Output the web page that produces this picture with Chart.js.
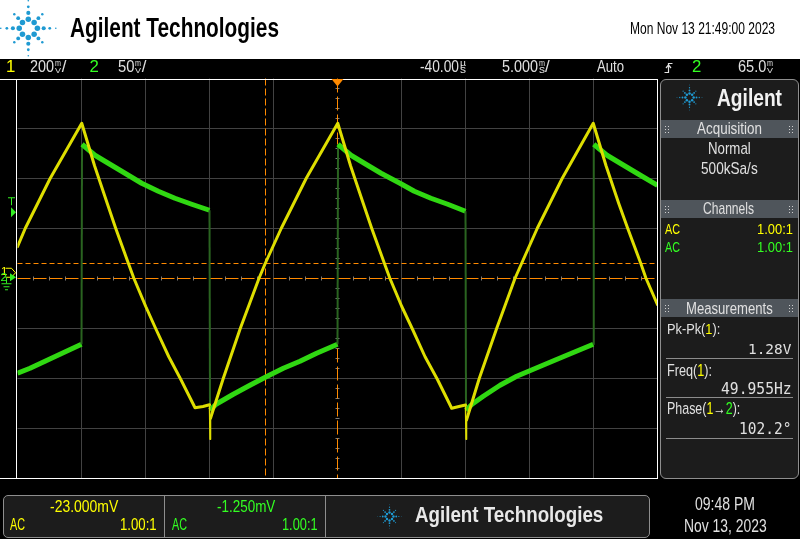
<!DOCTYPE html>
<html><head><meta charset="utf-8">
<script src="https://cdn.jsdelivr.net/npm/chart.js@4.4.1/dist/chart.umd.min.js"></script>
<style>
html,body{margin:0;padding:0;}
body{width:800px;height:539px;background:#000;position:relative;overflow:hidden;}
#hdr{position:absolute;left:0;top:0;width:800px;height:59px;background:#fff;}
#c{position:absolute;left:0;top:0;}
.lb{position:absolute;white-space:nowrap;transform-origin:0 0;}
.box{position:absolute;background:#1c1c1c;border:1px solid #8e8e8e;box-sizing:border-box;}
.bar{position:absolute;background:#4f555b;}
.sep{position:absolute;height:1px;background:#8c8c8c;}
.vl{position:absolute;width:1px;background:#8e8e8e;}
</style></head>
<body>
<div id="hdr"></div>
<div class="box" style="left:660px;top:79px;width:139px;height:400px;border-radius:6px;"></div>
<div class="bar" style="left:661px;top:120px;width:137px;height:18px;"></div>
<div class="bar" style="left:661px;top:200px;width:137px;height:18px;"></div>
<div class="bar" style="left:661px;top:299px;width:137px;height:18px;"></div>
<div class="sep" style="left:666px;top:358px;width:127px;"></div>
<div class="sep" style="left:666px;top:397px;width:127px;"></div>
<div class="sep" style="left:666px;top:438px;width:127px;"></div>
<div class="box" style="left:3px;top:495px;width:647px;height:43px;border-radius:5px;"></div>
<div class="vl" style="left:164px;top:495px;height:43px;"></div>
<div class="vl" style="left:325px;top:495px;height:43px;"></div>
<svg id="deco" width="800" height="539" style="position:absolute;left:0;top:0"></svg>
<canvas id="c" width="800" height="539"></canvas>
<script>
// Channel 1 (yellow), time in ms, voltage in mV
const ch1Time = [-25.04, -24.43, -22.48, -20.02,
  -19.02, -18.02, -17.37, -16.38, -15.95, -15.02, -14.22, -13.22, -12.27, -11.17, -10.55, -10.04, -10.00, -9.96,
  -8.96, -7.63, -6.17, -5.68, -4.43, -2.48, -0.02,
  0.98, 1.98, 2.63, 3.62, 4.05, 4.98, 5.82, 6.80, 7.78, 8.88, 9.45, 9.96, 10.00, 10.04,
  11.04, 12.40, 13.83, 14.35, 15.57, 17.52, 19.94,
  20.94, 21.94, 22.63, 23.65, 24.06, 24.96];
const ch1mV = [104, 178, 378, 598,
  428, 276, 178, 38, -22, -135, -226, -336, -428, -540, -535, -528, -666, -582,
  -422, -222, -22, 38, 178, 378, 598,
  428, 276, 178, 38, -22, -135, -226, -336, -428, -542, -535, -529, -666, -589,
  -422, -222, -22, 38, 178, 378, 598,
  428, 276, 178, 38, -22, -128];
// Channel 2 (green)
const ch2Time = [-25.04, -24.06, -22.89, -21.72, -20.04,
  -20.00, -18.99, -17.95, -16.64, -15.34, -14.04, -12.74, -11.43, -10.04,
  -10.00, -9.53, -8.18, -6.88, -5.68, -4.27, -2.97, -1.67, -0.04,
  0.00, 1.01, 2.05, 3.36, 4.84, 5.96, 7.26, 8.57, 9.96,
  10.00, 10.47, 11.35, 12.66, 13.96, 15.26, 16.56, 17.87, 19.94,
  19.98, 21.01, 22.05, 23.36, 24.96];
const ch2mV = [-96, -91, -84, -77, -67,
  133, 122, 114, 104, 94, 86, 79, 73, 67,
  -133, -127, -117, -108, -100, -91, -84, -76, -67,
  133, 122, 114, 104, 94, 86, 79, 73, 66,
  -133, -127, -119, -108, -99, -92, -85, -78, -67,
  133, 122, 114, 104, 92];
// scope settings
const timeRange = [-25.04, 24.96];      // 5.000 ms/div, delay -40.00 us
const ch1Range = [-823, 777];           // 200 mV/div, offset -23.000 mV
const ch2Range = [-201.25, 198.75];     // 50 mV/div, offset -1.250 mV
const triggerLevel = 65.0;              // mV on channel 2
const cursorTime = [-5.66];             // phase measurement marker (ms)
const cursorCh1 = [37];                 // ch1 threshold marker (mV)

// ---------------- decoration (logos, grips, trigger symbol) ----------------
function spark(cx, cy, R){
  let s = '';
  for (let k = 0; k < 8; k++) {
    const a = k * Math.PI / 4, diag = k % 2 === 1;
    const rings = diag ? [[0.30,0.10],[0.52,0.07],[0.72,0.045]] : [[0.33,0.10],[0.56,0.075],[0.78,0.05],[1.0,0.03]];
    for (const [d, r] of rings) s += `<circle cx="${(cx+R*d*Math.cos(a)).toFixed(2)}" cy="${(cy+R*d*Math.sin(a)).toFixed(2)}" r="${(R*r).toFixed(2)}"/>`;
  }
  return `<g fill="#1f9ad2">${s}</g>`;
}
function grips(x, y){
  let s = '';
  for (const dx of [0,3]) for (const dy of [0,3,6]) s += `<rect x="${x+dx}" y="${y+dy}" width="1" height="1"/>`;
  return `<g fill="#cfcfcf">${s}</g>`;
}
let deco = spark(28.3, 28.3, 27.5) + spark(689.5, 97.5, 12.5) + spark(389.5, 516.5, 12);
for (const y of [126, 206, 305]) deco += grips(665, y) + grips(789, y);
deco += `<g stroke="#e0e0e0" fill="none" stroke-width="1.2"><path d="M664.5 72.5H668.5V63.5H672.5"/><path d="M666 68L668.5 65L671 68"/></g>`;
document.getElementById('deco').innerHTML = deco;

// ---------------- text labels ----------------
const mctx = document.createElement('canvas').getContext('2d');
function lab(html, x, capTop, capH, w, color, o = {}) {
  const fam = o.mono ? "'DejaVu Sans Mono', monospace" : "'Liberation Sans', Arial, sans-serif";
  const weight = o.bold ? 'bold' : 'normal';
  mctx.font = `${weight} 100px ${fam}`;
  const m = mctx.measureText('H');
  const cap = m.actualBoundingBoxAscent / 100, asc = m.fontBoundingBoxAscent / 100, desc = m.fontBoundingBoxDescent / 100;
  const F = capH / cap;
  const top = capTop + capH - (asc - (asc + desc - 1) / 2) * F;
  const el = document.createElement('div');
  el.className = 'lb';
  el.innerHTML = html;
  el.style.left = x + 'px'; el.style.top = top + 'px';
  el.style.font = `${weight} ${F}px ${fam}`; el.style.lineHeight = F + 'px'; el.style.color = color;
  document.body.appendChild(el);
  if (w) { const aw = el.getBoundingClientRect().width; el.style.transform = `scaleX(${w / aw})`; }
}
const Y = '#ffff00', GR = '#33ff22', W = '#e0e0e0';
const y = s => `<span style="color:${Y}">${s}</span>`, g = s => `<span style="color:${GR}">${s}</span>`;
// header
lab('Agilent Technologies', 70, 18.5, 19, 209, '#000', {bold: true});
lab('Mon Nov 13 21:49:00 2023', 630, 23.3, 11.7, 145, '#000');
// status bar
function unitStack(top, bot, x, w) {
  lab(top, x, 60.6, 6.2, w, W);
  if (bot === 'V') lab(bot, x, 68, 5.3, w, W); else lab(bot, x, 66.4, 6.9, w, W);
}
lab('1', 6, 61.7, 11.6, 0, Y);
lab('200', 30, 61.7, 11.6, 24, W); unitStack('m', 'V', 55, 6); lab('/', 61.7, 61.7, 11.6, 0, W);
lab('2', 89.5, 61.7, 11.6, 0, GR);
lab('50', 118.3, 61.7, 11.6, 16.5, W); unitStack('m', 'V', 135.3, 6); lab('/', 141.7, 61.7, 11.6, 0, W);
lab('-40.00', 420, 61.7, 11.6, 39, W); unitStack('µ', 's', 460, 6);
lab('5.000', 501.7, 61.7, 11.6, 36, W); unitStack('m', 's', 538.5, 6); lab('/', 545, 61.7, 11.6, 0, W);
lab('Auto', 596.5, 61.7, 11.6, 27, W);
lab('2', 692, 61.7, 11.6, 0, GR);
lab('65.0', 738.3, 61.7, 11.6, 28.4, W); unitStack('m', 'V', 767, 6);
// left markers
lab('1', 1, 268, 8, 0, Y);
lab('2', 0.5, 273.5, 8, 0, GR);
// right panel
lab('Agilent', 717, 90, 16.7, 65, '#f2f2f2', {bold: true});
lab('Acquisition', 696.7, 123.3, 11.7, 65, W);
lab('Normal', 708, 143.3, 11.7, 42.7, W);
lab('500kSa/s', 700.7, 163.3, 11.7, 56.7, W);
lab('Channels', 703, 203, 11.3, 51, W);
lab('AC', 665, 224.3, 10, 15, Y); lab('1.00:1', 756.7, 224.3, 10, 36, Y);
lab('AC', 665, 242.7, 10, 15, GR); lab('1.00:1', 756.7, 242.7, 10, 36, GR);
lab('Measurements', 685.7, 303.3, 11, 86.7, W);
lab('Pk-Pk(' + y('1') + '):', 666.7, 323.5, 10.7, 53.3, W);
lab('1.28V', 748.3, 345, 10, 43.4, W, {mono: true});
lab('Freq(' + y('1') + '):', 666.7, 365.3, 11, 45, W);
lab('49.955Hz', 721, 384, 11, 70.7, W, {mono: true});
lab('Phase(' + y('1') + '→' + g('2') + '):', 666.7, 403.7, 11, 73.3, W);
lab('102.2°', 739.3, 423.7, 11, 52.4, W, {mono: true});
// bottom bar
lab('-23.000mV', 50, 501.7, 11.7, 68.3, Y);
lab('AC', 10, 520, 11.7, 15, Y); lab('1.00:1', 120, 520, 11.7, 36.7, Y);
lab('-1.250mV', 216.7, 501.7, 11.7, 58.3, GR);
lab('AC', 171.7, 520, 11.7, 15, GR); lab('1.00:1', 281.7, 520, 11.7, 35.6, GR);
lab('Agilent Technologies', 415, 508.3, 15, 188.3, '#e8e8e8', {bold: true});
lab('09:48 PM', 695, 499.3, 12.3, 60, W);
lab('Nov 13, 2023', 684, 520.7, 12.3, 82.7, W);

// ---------------- chart ----------------
const ORANGE = '#ff8a00';
const scopePlugin = {
  id: 'scope',
  beforeDatasetsDraw(chart) {
    const {ctx, chartArea: a, scales} = chart;
    const Wd = a.right - a.left, Hd = a.bottom - a.top;
    const cx = a.left + Wd / 2, cy = a.top + Hd / 2;
    ctx.save();
    ctx.lineWidth = 1;
    ctx.strokeStyle = '#424242';
    ctx.beginPath();
    for (let k = 1; k < 10; k++) { if (k === 5) continue; const x = a.left + k * Wd / 10; ctx.moveTo(x, a.top); ctx.lineTo(x, a.bottom); }
    for (let k = 1; k < 8; k++) { if (k === 4) continue; const yy = a.top + k * Hd / 8; ctx.moveTo(a.left, yy); ctx.lineTo(a.right, yy); }
    ctx.stroke();
    ctx.strokeStyle = '#7c7c7c';
    ctx.beginPath();
    for (let k = 1; k < 40; k++) { if (k % 4 === 0) continue; const x = a.left + k * Wd / 40; ctx.moveTo(x, cy - 2); ctx.lineTo(x, cy + 2); }
    for (let k = 1; k < 40; k++) { if (k % 5 === 0) continue; const yy = a.top + k * Hd / 40; ctx.moveTo(cx - 2, yy); ctx.lineTo(cx + 2, yy); }
    ctx.stroke();
    ctx.strokeStyle = ORANGE;
    const dashed = (pat, x0, y0, x1, y1) => { ctx.setLineDash(pat); ctx.beginPath(); ctx.moveTo(x0, y0); ctx.lineTo(x1, y1); ctx.stroke(); };
    dashed([13, 3], a.left, cy, a.right, cy);
    dashed([14, 4], cx, a.top, cx, a.bottom);
    const hy = Math.round(scales.y1.getPixelForValue(cursorCh1[0]) - 0.5) + 0.5;
    dashed([5, 3], a.left, hy, a.right, hy);
    const vx = Math.round(scales.x.getPixelForValue(cursorTime[0]) - 0.5) + 0.5;
    dashed([7, 3], vx, a.top, vx, a.bottom);
    ctx.restore();
  },
  afterDatasetsDraw(chart) {
    const {ctx, chartArea: a, scales} = chart;
    ctx.save();
    ctx.strokeStyle = '#ffffff'; ctx.lineWidth = 1;
    ctx.beginPath();
    ctx.moveTo(0, 79.5); ctx.lineTo(658, 79.5);
    ctx.moveTo(0, a.bottom); ctx.lineTo(658, a.bottom);
    ctx.moveTo(16.5, 79); ctx.lineTo(16.5, a.bottom);
    ctx.moveTo(a.right, 79); ctx.lineTo(a.right, a.bottom);
    ctx.stroke();
    // trigger position marker
    const cx = scales.x.getPixelForValue(-0.04) ;
    ctx.fillStyle = ORANGE;
    ctx.beginPath(); ctx.moveTo(cx - 6, 79); ctx.lineTo(cx + 6, 79); ctx.lineTo(cx, 86.5); ctx.closePath(); ctx.fill();
    // trigger level marker (ch2)
    const GRN = '#33ee22';
    const ty = scales.y2.getPixelForValue(triggerLevel);
    ctx.fillStyle = GRN; ctx.strokeStyle = GRN;
    ctx.beginPath(); ctx.moveTo(11, ty - 5); ctx.lineTo(16, ty); ctx.lineTo(11, ty + 5); ctx.closePath(); ctx.fill();
    ctx.beginPath(); ctx.moveTo(8, ty - 14.5); ctx.lineTo(15, ty - 14.5); ctx.moveTo(11.5, ty - 14.5); ctx.lineTo(11.5, ty - 7); ctx.stroke();
    // ch1 ground marker
    const g1 = scales.y1.getPixelForValue(0);
    ctx.strokeStyle = '#ffff00'; ctx.fillStyle = '#ffff00';
    ctx.beginPath(); ctx.moveTo(5.5, g1 - 4.5); ctx.lineTo(11.5, g1 - 4.5); ctx.lineTo(15.5, g1); ctx.lineTo(11.5, g1 + 4.5); ctx.lineTo(5.5, g1 + 4.5); ctx.stroke();
    // ch2 ground marker
    const g2 = scales.y2.getPixelForValue(0);
    ctx.fillStyle = GRN; ctx.strokeStyle = GRN;
    ctx.beginPath(); ctx.moveTo(10, g2 - 4); ctx.lineTo(16, g2); ctx.lineTo(10, g2 + 4); ctx.closePath(); ctx.fill();
    ctx.beginPath();
    ctx.moveTo(6.5, g2); ctx.lineTo(6.5, g2 + 6);
    ctx.moveTo(1.5, g2 + 6.5); ctx.lineTo(11.5, g2 + 6.5);
    ctx.moveTo(3.5, g2 + 9.5); ctx.lineTo(9.5, g2 + 9.5);
    ctx.moveTo(5, g2 + 12.5); ctx.lineTo(8, g2 + 12.5);
    ctx.stroke();
    ctx.restore();
  }
};
const isEdge = c => (c.p1.parsed.x - c.p0.parsed.x) < 0.05;
new Chart(document.getElementById('c'), {
  type: 'line',
  data: {
    datasets: [
      {
        label: 'Ch1', yAxisID: 'y1',
        data: ch1Time.map((t, i) => ({x: t, y: ch1mV[i]})),
        borderColor: '#dede00', borderWidth: 3, pointRadius: 0, tension: 0,
        borderJoinStyle: 'round', borderCapStyle: 'round',
        segment: { borderWidth: c => isEdge(c) ? 1.5 : 3 }
      },
      {
        label: 'Ch2', yAxisID: 'y2',
        data: ch2Time.map((t, i) => ({x: t, y: ch2mV[i]})),
        borderColor: '#30d812', borderWidth: 5, pointRadius: 0, tension: 0,
        borderJoinStyle: 'round',
        segment: {
          borderWidth: c => isEdge(c) ? 2 : 5,
          borderColor: c => isEdge(c) ? '#2a6420' : '#30d812'
        }
      }
    ]
  },
  options: {
    responsive: false, animation: false, events: [],
    layout: { padding: { left: 17.5, right: 142.5, top: 78.5, bottom: 60.5 } },
    plugins: { legend: { display: false }, tooltip: { enabled: false } },
    scales: {
      x: { type: 'linear', min: timeRange[0], max: timeRange[1], display: false },
      y1: { type: 'linear', min: ch1Range[0], max: ch1Range[1], display: false },
      y2: { type: 'linear', min: ch2Range[0], max: ch2Range[1], display: false }
    }
  },
  plugins: [scopePlugin]
});
</script>
</body></html>
